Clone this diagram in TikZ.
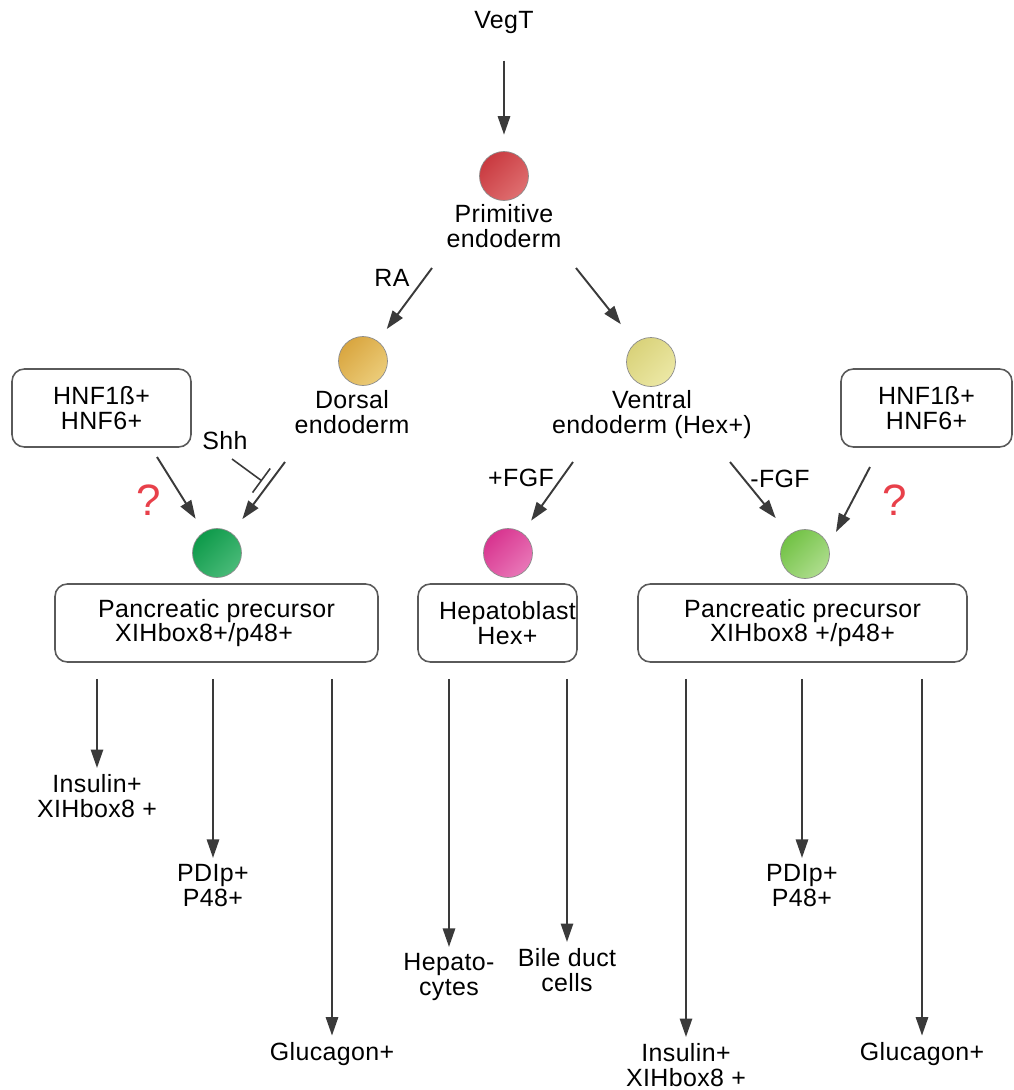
\documentclass[tikz,border=0pt]{standalone}
\usepackage{fontspec}
\setmainfont{Liberation Sans}[LetterSpace=1.5]
\usetikzlibrary{arrows.meta}

\definecolor{arrowgrey}{HTML}{3A3A3A}
\definecolor{boxgrey}{HTML}{5A5A5A}
\definecolor{qred}{HTML}{E8404A}
\definecolor{primdark}{HTML}{C93A40}
\definecolor{primlight}{HTML}{E68080}
\definecolor{dorsdark}{HTML}{D9A640}
\definecolor{dorslight}{HTML}{F2D98C}
\definecolor{ventdark}{HTML}{D9D27A}
\definecolor{ventlight}{HTML}{F2EFB3}
\definecolor{pancdark}{HTML}{0E9A4A}
\definecolor{panclight}{HTML}{5DC588}
\definecolor{hepdark}{HTML}{D8348F}
\definecolor{heplight}{HTML}{EE8DC5}
\definecolor{ventpdark}{HTML}{72C245}
\definecolor{ventplight}{HTML}{C2E6A5}

\tikzset{
	lbl/.style={font=\fontsize{14.2}{14}\selectfont, align=center, inner sep=0pt},
	cell/.style 2 args={circle, minimum size=0.98cm, inner sep=0pt, draw=black!45, line width=0.4pt,
		left color=#1, middle color=#2, right color=#2!75!#1, shading angle=45},
	stage/.style={lbl, draw=boxgrey, line width=0.9pt, rounded corners=7pt, minimum height=1.56cm},
	qmark/.style={font=\fontsize{25}{25}\selectfont, text=qred, inner sep=0pt},
	arr/.style={draw=arrowgrey, line width=1.1pt, -{Triangle[length=10.5pt,width=7pt]}},
	down/.style={arr, shorten <=0.32cm, shorten >=0.12cm},
	blocked/.style={draw=arrowgrey, line width=0.9pt, -{Bar[width=17pt]}},
}

\begin{document}
\begin{tikzpicture}[x=0.02cm, y=-0.02cm]
	\useasboundingbox (0,0) rectangle (1014,1090);
	% top of the tree
	\node[lbl, anchor=base] (vegt) at (504,28) {VegT};
	\node[cell={primdark}{primlight}] (prim) at (504,176) {};
	\node[lbl, anchor=base] (primlbl) at (504,247) {Primitive\\endoderm};
	\node[lbl, anchor=base] (ra) at (392,286) {RA};
	\node[cell={dorsdark}{dorslight}] (dors) at (363,361) {};
	\node[lbl, anchor=base] (dorslbl) at (352,433) {Dorsal\\endoderm};
	\node[cell={ventdark}{ventlight}] (vent) at (651,362) {};
	\node[lbl, anchor=base] (ventlbl) at (652,433) {Ventral\\endoderm (Hex+)};
	\node[stage, minimum width=3.58cm] (hnfL) at (101.5,408) {HNF1ß+\\HNF6+};
	\node[stage, minimum width=3.42cm] (hnfR) at (926.5,408) {HNF1ß+\\HNF6+};
	\node[lbl, anchor=base] (shh) at (225,449) {Shh};
	\node[lbl, anchor=base] (pfgf) at (521,486) {+FGF};
	\node[lbl, anchor=base] (mfgf) at (780,487) {-FGF};
	\node[qmark] (qL) at (149,500) {?};
	\node[qmark] (qR) at (895,500) {?};
	% precursors
	\node[cell={pancdark}{panclight}] (pancL) at (217,553) {};
	\node[cell={hepdark}{heplight}] (hepb) at (508,553) {};
	\node[cell={ventpdark}{ventplight}] (pancR) at (805,554) {};
	\node[stage, minimum width=6.46cm] (precL) at (216.5,623) {Pancreatic precursor\\XIHbox8+/p48+\hspace*{0.5cm}};
	\node[stage, minimum width=3.18cm] (hepbox) at (497.5,623) {\hspace*{0.4cm}Hepatoblast\\\hspace*{0.4cm}Hex+};
	\node[stage, minimum width=6.58cm] (precR) at (802.5,623) {Pancreatic precursor\\XIHbox8 +/p48+};
	% end products
	\node[lbl, anchor=base] (insL) at (97,817) {Insulin+\\XIHbox8 +};
	\node[lbl, anchor=base] (pdxL) at (213,906) {PDIp+\\P48+};
	\node[lbl, anchor=base] (gluL) at (332,1060) {Glucagon+};
	\node[lbl, anchor=base] (hepc) at (449,995) {Hepato-\\cytes};
	\node[lbl, anchor=base] (bile) at (567,991) {Bile duct\\cells};
	\node[lbl, anchor=base] (insR) at (686,1086) {Insulin+\\XIHbox8 +};
	\node[lbl, anchor=base] (pdxR) at (802,906) {PDIp+\\P48+};
	\node[lbl, anchor=base] (gluR) at (922,1060) {Glucagon+};

	\coordinate (raS) at (432,268);
	\coordinate (ventS) at (576,268);
	\coordinate (hnfLS) at (157,457);
	\coordinate (dorsS) at (285,462);
	\coordinate (shhS) at (232,459);
	\coordinate (shhE) at (262,481);
	\coordinate (pfgfS) at (573,462);
	\coordinate (mfgfS) at (730,462);
	\coordinate (hnfRS) at (870,467);
	\coordinate (hnfRE) at (836,532);

	\draw[arr, shorten <=0.54cm, shorten >=0.33cm] (vegt) -- (prim);
	\draw[arr, shorten >=0.30cm] (raS) -- (dors);
	\draw[arr, shorten >=0.47cm] (ventS) -- (vent);
	\draw[arr, shorten >=0.31cm] (hnfLS) -- (pancL);
	\draw[arr, shorten >=0.35cm] (dorsS) -- (pancL);
	\draw[blocked] (shhS) -- (shhE);
	\draw[arr, shorten >=0.30cm] (pfgfS) -- (hepb);
	\draw[arr, shorten >=0.43cm] (mfgfS) -- (pancR);
	\draw[arr] (hnfRS) -- (hnfRE);

	\draw[down] (precL.south -| insL) -- (insL);
	\draw[down] (precL.south -| pdxL) -- (pdxL);
	\draw[down] (precL.south -| gluL) -- (gluL);
	\draw[down] (hepbox.south -| hepc) -- (hepc);
	\draw[down] (hepbox.south -| bile) -- (bile);
	\draw[down] (precR.south -| insR) -- (insR);
	\draw[down] (precR.south -| pdxR) -- (pdxR);
	\draw[down] (precR.south -| gluR) -- (gluR);
\end{tikzpicture}
\end{document}
